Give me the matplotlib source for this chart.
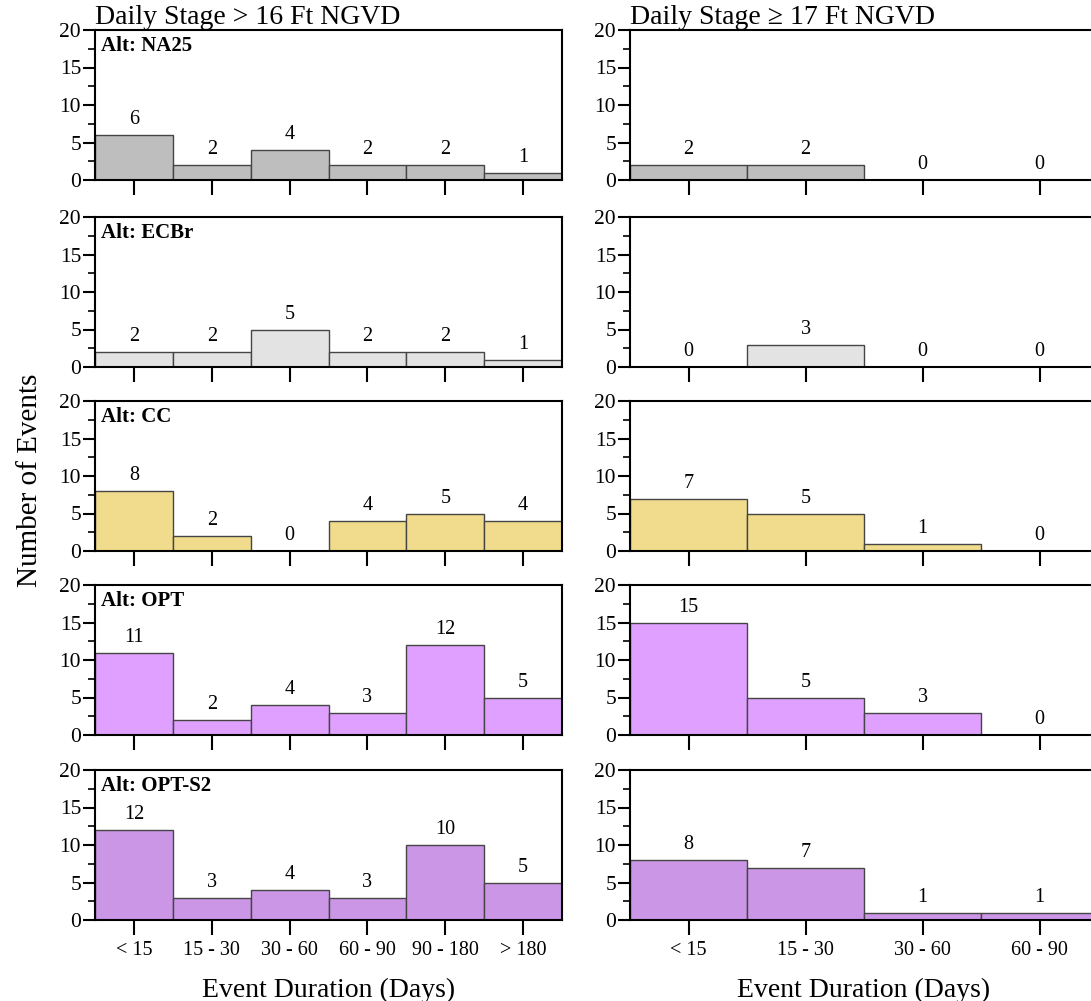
import matplotlib
matplotlib.use('Agg')
import matplotlib.pyplot as plt
from matplotlib.ticker import MultipleLocator

plt.rcParams['font.family'] = ['Liberation Serif', 'DejaVu Serif']

alts = ['NA25', 'ECBr', 'CC', 'OPT', 'OPT-S2']
colors = ['#BEBEBE', '#E3E3E3', '#F0DC8C', '#E0A0FF', '#CC96E6']

cats_16 = ['< 15', '15 - 30', '30 - 60', '60 - 90', '90 - 180', '> 180']
cats_17 = ['< 15', '15 - 30', '30 - 60', '60 - 90']

counts_16 = {
    'NA25': [6, 2, 4, 2, 2, 1],
    'ECBr': [2, 2, 5, 2, 2, 1],
    'CC': [8, 2, 0, 4, 5, 4],
    'OPT': [11, 2, 4, 3, 12, 5],
    'OPT-S2': [12, 3, 4, 3, 10, 5],
}
counts_17 = {
    'NA25': [2, 2, 0, 0],
    'ECBr': [0, 3, 0, 0],
    'CC': [7, 5, 1, 0],
    'OPT': [15, 5, 3, 0],
    'OPT-S2': [8, 7, 1, 1],
}

title_16 = 'Daily Stage > 16 Ft NGVD'
title_17 = 'Daily Stage \u2265 17 Ft NGVD'

W, H = 1091, 1001
fig = plt.figure(figsize=(W / 100, H / 100), dpi=100)

tops = [30, 217, 401, 585, 770]
ph = 150


def style_ax(ax, ncat, labels, show_xlabels):
    ax.set_xlim(-0.5, ncat - 0.5)
    ax.set_ylim(0, 20)
    ax.yaxis.set_major_locator(MultipleLocator(5))
    ax.yaxis.set_minor_locator(MultipleLocator(2.5))
    ax.set_xticks(range(ncat))
    if show_xlabels:
        ax.set_xticklabels(labels, fontsize=14.5)
    else:
        ax.set_xticklabels([])
    ax.tick_params(axis='y', which='major', direction='out', length=9, width=1.5, labelsize=15.5, pad=1)
    ax.tick_params(axis='y', which='minor', direction='out', length=5, width=1.2)
    ax.tick_params(axis='x', which='major', direction='out', length=11, width=1.5, pad=4)
    for s in ax.spines.values():
        s.set_linewidth(1.5)


def draw_bars(ax, vals, color):
    x = list(range(len(vals)))
    ax.bar(x, vals, width=1.0, color=color, edgecolor='#454545', linewidth=1.0)
    for xi, v in zip(x, vals):
        ax.annotate(str(v), (xi, v), xytext=(0, 11), textcoords='offset points',
                    ha='center', va='center', fontsize=14.5)


for i, alt in enumerate(alts):
    top = tops[i]
    yb = 1 - (top + ph) / H
    hh = ph / H
    last = (i == len(alts) - 1)

    ax1 = fig.add_axes([95 / W, yb, 467 / W, hh])
    draw_bars(ax1, counts_16[alt], colors[i])
    style_ax(ax1, len(cats_16), cats_16, last)
    ax1.text(0.012, 0.96, 'Alt: ' + alt, transform=ax1.transAxes, ha='left', va='top',
             fontsize=15, fontweight='bold')

    ax2 = fig.add_axes([630 / W, yb, 468 / W, hh])
    draw_bars(ax2, counts_17[alt], colors[i])
    style_ax(ax2, len(cats_17), cats_17, last)

    if i == 0:
        ax1.set_title(title_16, loc='left', fontsize=20, pad=0, x=0.0)
        ax2.set_title(title_17, loc='left', fontsize=20, pad=0, x=0.0)
    if last:
        ax1.set_xlabel('Event Duration (Days)', fontsize=20, labelpad=13)
        ax2.set_xlabel('Event Duration (Days)', fontsize=20, labelpad=13)

fig.text(30 / W, 1 - 480 / H, 'Number of Events', rotation=90, ha='center', va='center', fontsize=21)

fig.savefig('out.png', dpi=100)
